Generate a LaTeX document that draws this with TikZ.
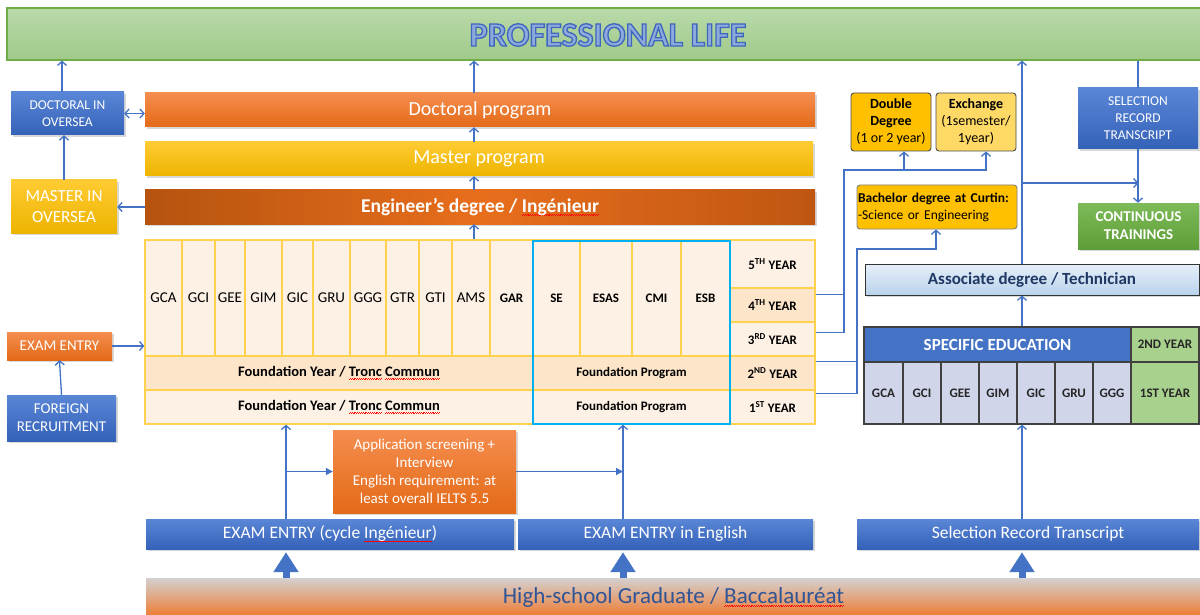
\documentclass[tikz,border=0pt]{standalone}
\usepackage{fontspec}
\setmainfont{Carlito}
\usetikzlibrary{arrows.meta,shadows,calc}
\newcommand\myfs[2]{\fontsize{#1}{#2}\selectfont}
\newsavebox\mywavebox
\newcommand\redwave[1]{\sbox\mywavebox{#1}\rlap{\raisebox{-3pt}{\textcolor{red}{\hbox to \wd\mywavebox{\xleaders\hbox{\rule{0.9pt}{0.6pt}\rule[0.7pt]{0.9pt}{0.6pt}}\hfill}}}}\usebox\mywavebox}
\newcommand\mkbox[7]{\node[#2, minimum width={(#5)-(#3)}, minimum height={(#6)-(#4)}] (#1) at ({((#3)+(#5))/2},{((#4)+(#6))/2}) {#7};}
\definecolor{cblue}{HTML}{4472C4}
\definecolor{cbluetop}{HTML}{5A86D6}
\definecolor{cbluebot}{HTML}{3462B8}
\definecolor{corgtop}{HTML}{F58D4F}
\definecolor{corgbot}{HTML}{E36A17}
\definecolor{cyeltop}{HTML}{FFCB33}
\definecolor{cyelbot}{HTML}{EDB400}
\definecolor{cengl}{HTML}{B5530F}
\definecolor{cengm}{HTML}{E86E1C}
\definecolor{cengr}{HTML}{BE5612}
\definecolor{cgrid}{HTML}{FFD24D}
\definecolor{ccell}{HTML}{FDF1E5}
\definecolor{ccelld}{HTML}{FDE5CA}
\definecolor{ccyan}{HTML}{00B0F0}
\definecolor{cgold}{HTML}{FFC000}
\definecolor{cgoldl}{HTML}{FFD966}
\definecolor{clav}{HTML}{D0D5EA}
\definecolor{cgreen}{HTML}{A9D18E}
\definecolor{cgreentop}{HTML}{7DBA58}
\definecolor{cgreenbot}{HTML}{5E9E38}
\definecolor{cnavy}{HTML}{1F3864}
\definecolor{chstext}{HTML}{2F5597}
\definecolor{chstop}{HTML}{D4D0D0}
\definecolor{chsbot}{HTML}{EF7A2E}
\definecolor{cproftop}{HTML}{BADAAA}
\definecolor{cprofbot}{HTML}{A0C98A}
\definecolor{cprofb}{HTML}{70AD47}
\definecolor{ctitle}{HTML}{8EA9DB}
\definecolor{cassoctop}{HTML}{E6EFF9}
\definecolor{cassocbot}{HTML}{B9D3EC}
\tikzset{
  box/.style={inner sep=0pt, align=center, text=white},
  shad/.style={drop shadow={shadow xshift=1.8pt, shadow yshift=-1.8pt, opacity=0.3}},
  bluebox/.style={box, shad, top color=cbluetop, bottom color=cbluebot},
  orgbox/.style={box, shad, top color=corgtop, bottom color=corgbot},
  yelbox/.style={box, shad, top color=cyeltop, bottom color=cyelbot},
  cell/.style={draw=cgrid, line width=1.3pt, fill=ccell, inner sep=0pt, align=center},
  dcell/.style={cell, fill=ccelld},
  lab/.style={font=\myfs{15}{18}},
  blab/.style={font=\myfs{13}{16}\bfseries},
  fnd/.style={font=\myfs{14.5}{17}\bfseries},
  fpg/.style={font=\myfs{13}{16}\bfseries},
  sec/.style={draw=black!75, line width=1.2pt, inner sep=0pt, align=center, font=\myfs{13}{16}\bfseries, text=black!85},
  opt/.style={draw=black!70, line width=0.9pt, rounded corners=3pt, inner sep=0pt, align=center, text=black, font=\myfs{14}{17}},
  conn/.style={draw=cblue, line width=1.3pt},
  arr/.style={conn, -{Straight Barb[length=4pt,width=9pt]}},
  tarr/.style={conn, -{Triangle[length=7pt,width=7pt]}},
  bigarr/.style={draw=cblue, line width=7pt, -{Triangle[length=20pt,width=24pt]}, shorten >=3pt},
}
\begin{document}
\begin{tikzpicture}[x=1pt,y=-1pt]
\useasboundingbox (0,0) rectangle (1200,615);
\fill[white] (0,0) rectangle (1200,615);

% professional life band
\mkbox{prof}{draw=cprofb, line width=1.2pt, top color=cproftop, bottom color=cprofbot, inner sep=0pt}{7}{8}{1203}{60}{}

% left column
\mkbox{docov}{bluebox, font=\myfs{13.5}{17}}{11}{92}{124}{135}{DOCTORAL IN\\OVERSEA}
\mkbox{masov}{yelbox, font=\myfs{17}{21}}{11}{180}{117}{233}{MASTER IN\\OVERSEA}
\mkbox{examl}{orgbox, font=\myfs{15}{18}}{7}{332}{112}{360}{EXAM ENTRY}
\mkbox{foreign}{bluebox, font=\myfs{15}{18}}{7}{395}{116}{441}{FOREIGN\\RECRUITMENT}

% programme bars
\mkbox{doctoral}{orgbox, font=\myfs{20}{24}}{145}{93}{815}{127}{Doctoral program}
\mkbox{master}{yelbox, font=\myfs{20}{24}}{145}{142}{813}{176}{Master program}
\mkbox{engineer}{box, shad, left color=cengl, right color=cengr, middle color=cengm, font=\myfs{19.5}{23}\bfseries}{145}{190}{815}{224}{Engineer’s degree / \redwave{Ingénieur}}

% grid of majors
\mkbox{gca}{cell, lab}{145}{240}{182}{356}{GCA}
\mkbox{gci}{cell, lab}{182}{240}{215}{356}{GCI}
\mkbox{gee}{cell, lab}{215}{240}{245}{356}{GEE}
\mkbox{gim}{cell, lab}{245}{240}{282}{356}{GIM}
\mkbox{gic}{cell, lab}{282}{240}{313}{356}{GIC}
\mkbox{gru}{cell, lab}{313}{240}{350}{356}{GRU}
\mkbox{ggg}{cell, lab}{350}{240}{386}{356}{GGG}
\mkbox{gtr}{cell, lab}{386}{240}{419}{356}{GTR}
\mkbox{gti}{cell, lab}{419}{240}{452}{356}{GTI}
\mkbox{ams}{cell, lab}{452}{240}{490}{356}{AMS}
\mkbox{gar}{cell, blab}{490}{240}{533}{356}{GAR}
\mkbox{se}{cell, blab}{533}{240}{580}{356}{SE}
\mkbox{esas}{cell, blab}{580}{240}{632}{356}{ESAS}
\mkbox{cmi}{cell, blab}{632}{240}{681}{356}{CMI}
\mkbox{esb}{cell, blab}{681}{240}{730}{356}{ESB}
\mkbox{f2}{dcell, fnd}{145}{356}{533}{390}{Foundation Year / \redwave{Tronc} \redwave{Commun}}
\mkbox{f1}{cell, fnd}{145}{390}{533}{424}{Foundation Year / \redwave{Tronc} \redwave{Commun}}
\mkbox{fp2}{dcell, fpg}{533}{356}{730}{390}{Foundation Program}
\mkbox{fp1}{cell, fpg}{533}{390}{730}{424}{Foundation Program}
\mkbox{y5}{cell, blab}{730}{240}{815}{288}{5\textsuperscript{TH} YEAR}
\mkbox{y4}{dcell, blab}{730}{288}{815}{322}{4\textsuperscript{TH} YEAR}
\mkbox{y3}{cell, blab}{730}{322}{815}{356}{3\textsuperscript{RD} YEAR}
\mkbox{y2}{dcell, blab}{730}{356}{815}{390}{2\textsuperscript{ND} YEAR}
\mkbox{y1}{cell, blab}{730}{390}{815}{424}{1\textsuperscript{ST} YEAR}
\mkbox{grid}{draw=cgrid, line width=1.3pt, inner sep=0pt}{145}{240}{815}{424}{}
\mkbox{engl}{draw=ccyan, line width=2.6pt, inner sep=0pt}{533}{241}{730}{424}{}

% right column
\mkbox{dd}{opt, fill=cgold}{851}{93}{931}{151}{\textbf{Double}\\\textbf{Degree}\\(1 or 2 year)}
\mkbox{ex}{opt, fill=cgoldl}{936}{93}{1016}{151}{\textbf{Exchange}\\(1semester/\\1year)}
\node[opt, draw=black!50, fill=cgold, align=left, text width=158pt, inner xsep=1pt, minimum height=44pt, font=\myfs{13.5}{17}] (bach) at (937,207) {\textbf{Bachelor degree at Curtin:}\\-Science or Engineering};
\mkbox{sel}{bluebox, font=\myfs{13.5}{17}}{1078}{88}{1198}{149}{SELECTION\\RECORD\\TRANSCRIPT}
\mkbox{cont}{box, shad, top color=cgreentop, bottom color=cgreenbot, font=\myfs{15}{18}\bfseries}{1078}{203}{1199}{249}{CONTINUOUS\\TRAININGS}
\mkbox{assoc}{shad, draw=black!80, line width=1pt, top color=cassoctop, bottom color=cassocbot, inner sep=0pt, text=cnavy, font=\myfs{17}{20}\bfseries}{865}{264}{1199}{295}{Associate degree / Technician}

% specific education
\mkbox{spec}{sec, fill=cblue, text=white, font=\myfs{17}{20}\bfseries}{864}{327}{1131}{362}{SPECIFIC EDUCATION}
\mkbox{sy2}{sec, fill=cgreen}{1131}{327}{1199}{362}{2ND YEAR}
\mkbox{sgca}{sec, fill=clav}{864}{362}{903}{424}{GCA}
\mkbox{sgci}{sec, fill=clav}{903}{362}{941}{424}{GCI}
\mkbox{sgee}{sec, fill=clav}{941}{362}{979}{424}{GEE}
\mkbox{sgim}{sec, fill=clav}{979}{362}{1017}{424}{GIM}
\mkbox{sgic}{sec, fill=clav}{1017}{362}{1055}{424}{GIC}
\mkbox{sgru}{sec, fill=clav}{1055}{362}{1093}{424}{GRU}
\mkbox{sggg}{sec, fill=clav}{1093}{362}{1131}{424}{GGG}
\mkbox{sy1}{sec, fill=cgreen}{1131}{362}{1199}{424}{1ST YEAR}

% bottom
\mkbox{app}{orgbox, font=\myfs{15}{18}}{333}{430}{516}{513}{Application screening +\\Interview\\English requirement: at\\least overall IELTS 5.5}
\mkbox{ee1}{bluebox, font=\myfs{17.5}{21}}{146}{519}{514}{549}{EXAM ENTRY (cycle \redwave{Ingénieur})}
\mkbox{ee2}{bluebox, font=\myfs{17.5}{21}}{518}{519}{813}{549}{EXAM ENTRY in English}
\mkbox{srt}{bluebox, font=\myfs{17.5}{21}}{857}{519}{1199}{549}{Selection Record Transcript}
\mkbox{hs}{box, top color=chstop, bottom color=chsbot, text=chstext, font=\myfs{23}{27}}{146}{578}{1201}{617}{High-school Graduate / \redwave{Baccalauréat}}

% helper coordinates
\coordinate (xl) at (62,0);
\coordinate (xm) at (474,0);
\coordinate (xv) at (1022,0);
\coordinate (xa) at (286,0);
\coordinate (xb) at (623,0);
\coordinate (xdd) at (904,0);
\coordinate (xex) at (986,0);
\coordinate (xba) at (936,0);
\coordinate (ja) at (844,170);
\coordinate (jb) at (857,249);
\coordinate (hj) at (1022,183);
\coordinate (p4) at ($(y4.north east)+(0,7)$);
\coordinate (p3) at ($(y3.north east)+(0,11)$);
\coordinate (p2) at ($(y2.north east)+(0,6)$);
\coordinate (p1) at ($(y1.north east)+(0,4)$);

% left connectors
\draw[arr] (docov.north -| xl) -- (prof.south -| xl);
\draw[arr] (masov.north) -- (masov.north |- docov.south);
\draw[conn, {Straight Barb[length=4pt,width=9pt]}-{Straight Barb[length=4pt,width=9pt]}] (docov.east) -- (docov.east -| doctoral.west);
\draw[arr] (engineer.west) -- (engineer.west -| masov.east);
\draw[arr] (examl.east) -- (examl.east -| grid.west);
\draw[arr] (foreign.north) -- (examl.south);

% central spine
\draw[arr] (grid.north -| xm) -- (engineer.south -| xm);
\draw[arr] (engineer.north -| xm) -- (master.south -| xm);
\draw[arr] (master.north -| xm) -- (doctoral.south -| xm);
\draw[arr] (doctoral.north -| xm) -- (prof.south -| xm);

% year connectors
\draw[conn] (p4) -- (p4 -| ja);
\draw[arr] (p3) -| (ja) -| (ex.south -| xex);
\draw[arr] (ja -| xdd) -- (dd.south -| xdd);
\draw[conn] (p2) -- (p2 -| jb);
\draw[arr] (p1) -| (jb) -| (bach.south -| xba);

% right connectors
\draw[arr] (assoc.north -| xv) -- (prof.south -| xv);
\draw[arr] (hj) -- (hj -| cont.north);
\draw[conn] (prof.south -| sel.north) -- (sel.north);
\draw[arr] (sel.south) -- (sel.south |- cont.north);
\draw[arr] (spec.north -| xv) -- (assoc.south -| xv);
\draw[arr] (srt.north -| xv) -- (sgic.south -| xv);

% bottom connectors
\draw[arr] (ee1.north -| xa) -- (f1.south -| xa);
\draw[tarr] (xa |- app.west) -- (app.west);
\draw[tarr] (app.east) -- (app.east -| xb);
\draw[arr] (ee2.north -| xb) -- (fp1.south -| xb);
\draw[bigarr] (hs.north -| xa) -- (ee1.south -| xa);
\draw[bigarr] (hs.north -| xb) -- (ee2.south -| xb);
\draw[bigarr] (hs.north -| xv) -- (srt.south -| xv);

% title
\node[font=\myfs{34}{40}\bfseries, inner sep=0pt] (title) at ($(prof.center)+(3,1)$) {\color{ctitle}\special{pdf:code 2 Tr 1.3 w 0.24 0.40 0.74 RG}PROFESSIONAL LIFE\special{pdf:code 0 Tr}};
\end{tikzpicture}
\end{document}
